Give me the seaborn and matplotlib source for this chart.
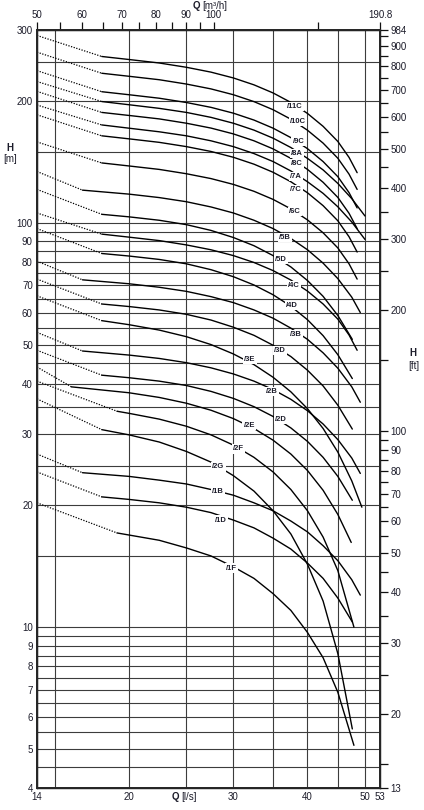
'''
Pump performance chart: head H versus flow Q, log-log, one curve per model
'''
import matplotlib
matplotlib.use('Agg')
import matplotlib.pyplot as plt
import seaborn           as sns
import pandas            as pnd
from matplotlib.ticker import NullFormatter

# ----------------------
# Curve points: Q [l/s], H [m]
# first segment (Q=14 -> second point) is the dotted part
# ----------------------
Q_C   = [14, 18, 20, 22.5, 25, 27.5, 30, 32.5, 35, 37.5, 40, 42.5, 45, 47, 48.5]
H_11C = [290.8, 258.0, 253.6, 248.6, 242.6, 236.0, 228.3, 219.5, 209.6, 198.6, 186.5, 173.3, 159.0, 145.2, 133.1]
H_10C = [264.4, 234.5, 230.5, 226.0, 220.5, 214.5, 207.5, 199.5, 190.5, 180.5, 169.5, 157.5, 144.5, 132.0, 121.0]
H_9C  = [238.0, 211.1, 207.5, 203.4, 198.5, 193.1, 186.8, 179.6, 171.5, 162.5, 152.6, 141.8, 130.1, 118.8, 108.9]
H_8C  = [211.5, 187.6, 184.4, 180.8, 176.4, 171.6, 166.0, 159.6, 152.4, 144.4, 135.6, 126.0, 115.6, 105.6,  96.8]
H_7C  = [185.1, 164.2, 161.4, 158.2, 154.4, 150.2, 145.3, 139.7, 133.4, 126.4, 118.7, 110.3, 101.2,  92.4,  84.7]
H_6C  = [158.6, 140.7, 138.3, 135.6, 132.3, 128.7, 124.5, 119.7, 114.3, 108.3, 101.7,  94.5,  86.7,  79.2,  72.6]
H_4C  = [105.8,  93.8,  92.2,  90.4,  88.2,  85.8,  83.0,  79.8,  76.2,  72.2,  67.8,  63.0,  57.8,  52.8,  48.4]

Q_A   = [14, 18, 20, 22.5, 25, 27.5, 30, 32.5, 35, 37.5, 40, 42.5, 45, 47.5, 50]
H_8A  = [223.7, 199.6, 196.0, 192.0, 187.6, 182.4, 176.4, 169.6, 162.0, 153.6, 144.4, 135.2, 125.2, 114.8, 104.0]
H_7A  = [195.7, 174.7, 171.5, 168.0, 164.2, 159.6, 154.4, 148.4, 141.8, 134.4, 126.4, 118.3, 109.6, 100.5,  91.0]

Q_B   = [14, 16.7, 20, 22.5, 25, 27.5, 30, 32.5, 35, 37.5, 40, 42.5, 45, 47.5, 49.1]
H_5B  = [134.0, 120.5, 117.8, 115.5, 112.8, 109.5, 105.8, 101.5, 96.8, 91.5, 85.8, 79.5, 72.8, 65.5, 60.0]
H_3B  = [ 80.4,  72.3,  70.7,  69.3,  67.7,  65.7,  63.5,  60.9, 58.1, 54.9, 51.5, 47.7, 43.7, 39.3, 36.0]
H_2B  = [ 53.6,  48.2,  47.1,  46.2,  45.1,  43.8,  42.3,  40.6, 38.7, 36.6, 34.3, 31.8, 29.1, 26.2, 24.0]
H_1B  = [ 26.8,  24.1,  23.6,  23.1,  22.6,  21.9,  21.2,  20.3, 19.4, 18.3, 17.2, 15.9, 14.6, 13.1, 12.0]

Q_D   = [14, 18, 20, 22.5, 25, 27.5, 30, 32.5, 35, 37.5, 40, 42.5, 45, 47.6]
H_5D  = [121.0, 105.0, 103.5, 101.5, 99.0, 95.8, 92.0, 87.8, 83.0, 77.8, 72.0, 65.8, 59.0, 51.5]
H_4D  = [ 96.8,  84.0,  82.8,  81.2, 79.2, 76.6, 73.6, 70.2, 66.4, 62.2, 57.6, 52.6, 47.2, 41.2]
H_3D  = [ 72.6,  63.0,  62.1,  60.9, 59.4, 57.5, 55.2, 52.7, 49.8, 46.7, 43.2, 39.5, 35.4, 30.9]
H_2D  = [ 48.4,  42.0,  41.4,  40.6, 39.6, 38.3, 36.8, 35.1, 33.2, 31.1, 28.8, 26.3, 23.6, 20.6]
H_1D  = [ 24.2,  21.0,  20.7,  20.3, 19.8, 19.2, 18.4, 17.6, 16.6, 15.6, 14.4, 13.2, 11.8, 10.3]

Q_3E  = [14, 18, 20, 22.5, 25, 27.5, 30, 32.5, 35, 37.5, 40, 42.5, 45, 47.5, 49.4]
H_3E  = [66.0, 57.3, 56.0, 54.3, 52.3, 50.0, 47.4, 44.6, 41.5, 38.2, 34.7, 31.0, 27.1, 23.0, 19.8]
Q_2E  = [14, 16, 20, 22.5, 25, 27.5, 30, 32.5, 35, 37.5, 40, 42.5, 45, 47.4]
H_2E  = [44.0, 39.3, 38.0, 37.0, 35.8, 34.4, 32.8, 31.0, 29.0, 26.8, 24.4, 21.8, 19.0, 16.2]

Q_F   = [14, 19.1, 20, 22.5, 25, 27.5, 30, 32.5, 35, 37.5, 40, 42.5, 45, 47.9]
H_2F  = [40.6, 34.2, 33.8, 32.7, 31.4, 29.9, 28.2, 26.3, 24.2, 21.9, 19.4, 16.7, 13.8, 10.0]
H_1F  = [20.3, 17.1, 16.9, 16.4, 15.7, 15.0, 14.1, 13.2, 12.1, 11.0,  9.7,  8.4,  6.9,  5.1]

Q_G   = [14, 18, 20, 22.5, 25, 27.5, 30, 32.5, 35, 37.5, 40, 42.5, 45, 47.6]
H_2G  = [36.7, 30.8, 29.9, 28.7, 27.2, 25.6, 23.7, 21.7, 19.4, 17.0, 14.3, 11.6, 8.6, 5.6]

# Label names and where they sit on the curves
l_name  = ['/11C', '/10C', '/9C', '/8A', '/8C', '/7A', '/7C', '/6C', '/5B', '/5D', '/4C', '/4D',
           '/3B', '/3D', '/3E', '/2B', '/2D', '/2E', '/2F', '/2G', '/1B', '/1D', '/1F']
l_lab_q = [38.1, 38.6, 38.6, 38.4, 38.4, 38.2, 38.2, 38.1, 36.7, 36.1, 38.0, 37.7,
           38.2, 36.0, 32.0, 34.9, 36.1, 31.9, 30.6, 28.3, 28.3, 28.6, 29.8]
l_lab_h = [194.0, 178.0, 158.8, 148.4, 140.0, 130.0, 120.8, 106.6, 91.9, 81.1, 69.9, 62.4,
           52.9, 48.3, 45.9, 38.2, 32.6, 31.5, 27.6, 24.9, 21.6, 18.4, 14.0]

# Axis ticks
h_major = [4, 5, 6, 7, 8, 9, 10, 20, 30, 40, 50, 60, 70, 80, 90, 100, 200, 300]
h_minor = [4.5, 5.5, 6.5, 7.5, 8.5, 9.5, 15, 25, 35, 45, 55, 65, 75, 85, 95, 150, 250]
q_major = [14, 20, 30, 40, 50, 53]
q_minor = [15, 25, 35, 45]
m3h_major = [50.4, 60, 70, 80, 90, 100, 190.8]
m3h_label = ['50', '60', '70', '80', '90', '100', '190.8']
m3h_minor = [55, 65, 75, 85, 95, 150]
ft_major  = [13.12, 20, 30, 40, 50, 60, 70, 80, 90, 100, 200, 300, 400, 500, 600, 700, 800, 900, 984.25]
ft_label  = ['13', '20', '30', '40', '50', '60', '70', '80', '90', '100', '200', '300',
             '400', '500', '600', '700', '800', '900', '984']
ft_minor  = [15, 25, 35, 45, 55, 65, 75, 85, 95, 150, 250, 350, 450, 550, 650, 750, 850, 950]

TXT = '#1c1c2a'
GRD = '#3c3c3c'
# ----------------------
def _curves() -> dict:
    return {
        '/11C' : (Q_C , H_11C), '/10C' : (Q_C , H_10C), '/9C' : (Q_C , H_9C ),
        '/8A'  : (Q_A , H_8A ), '/8C'  : (Q_C , H_8C ), '/7A' : (Q_A , H_7A ),
        '/7C'  : (Q_C , H_7C ), '/6C'  : (Q_C , H_6C ), '/5B' : (Q_B , H_5B ),
        '/5D'  : (Q_D , H_5D ), '/4C'  : (Q_C , H_4C ), '/4D' : (Q_D , H_4D ),
        '/3B'  : (Q_B , H_3B ), '/3D'  : (Q_D , H_3D ), '/3E' : (Q_3E, H_3E ),
        '/2B'  : (Q_B , H_2B ), '/2D'  : (Q_D , H_2D ), '/2E' : (Q_2E, H_2E ),
        '/2F'  : (Q_F , H_2F ), '/2G'  : (Q_G , H_2G ), '/1B' : (Q_B , H_1B ),
        '/1D'  : (Q_D , H_1D ), '/1F'  : (Q_F , H_1F )}
# ----------------------
def _tables() -> tuple[pnd.DataFrame, pnd.DataFrame]:
    l_dot = []
    l_sol = []
    for name, (l_q, l_h) in _curves().items():
        for i, (q, h) in enumerate(zip(l_q, l_h)):
            if i <= 1:
                l_dot.append({'curve' : name, 'Q' : q, 'H' : h})
            if i >= 1:
                l_sol.append({'curve' : name, 'Q' : q, 'H' : h})

    return pnd.DataFrame(l_dot), pnd.DataFrame(l_sol)
# ----------------------
def _style_axes(ax) -> None:
    ax.set_xscale('log')
    ax.set_yscale('log')
    ax.set_xlim(14, 53)
    ax.set_ylim(4, 300)

    ax.set_xticks(q_major, labels=[str(v) for v in q_major])
    ax.set_xticks(q_minor, minor=True)
    ax.set_yticks(h_major, labels=[str(v) for v in h_major])
    ax.set_yticks(h_minor, minor=True)
    ax.xaxis.set_minor_formatter(NullFormatter())
    ax.yaxis.set_minor_formatter(NullFormatter())
    ax.tick_params(which='both', length=0, labelsize=7, colors=TXT, pad=3)
    ax.grid(which='both', color=GRD, lw=0.8)
    ax.set_axisbelow(True)
    ax.set_xlabel('')
    ax.set_ylabel('')
    for spine in ax.spines.values():
        spine.set_color('#111111')
        spine.set_linewidth(1.0)

    axt = ax.twiny()
    axt.set_xscale('log')
    axt.set_xlim(50.4, 190.8)
    axt.set_xticks(m3h_major, labels=m3h_label)
    axt.set_xticks(m3h_minor, minor=True)
    axt.xaxis.set_minor_formatter(NullFormatter())
    axt.tick_params(which='both', direction='out', length=6, width=0.9, labelsize=7,
                    colors='#111111', labelcolor=TXT, pad=1)

    axr = ax.twinx()
    axr.set_yscale('log')
    axr.set_ylim(4 * 3.28084, 300 * 3.28084)
    axr.set_yticks(ft_major, labels=ft_label)
    axr.set_yticks(ft_minor, minor=True)
    axr.yaxis.set_minor_formatter(NullFormatter())
    axr.tick_params(which='both', direction='out', length=6, width=0.9, labelsize=7,
                    colors='#111111', labelcolor=TXT, pad=1.5)
# ----------------------
def main():
    '''
    Entry point
    '''
    sns.set_theme(style='white')
    plt.rcParams['font.family'] = ['Liberation Sans', 'DejaVu Sans']

    fig = plt.figure(figsize=(4.24, 8.10), dpi=100)
    ax  = fig.add_axes([37 / 424, 22 / 810, 343 / 424, 758 / 810])

    df_dot, df_sol = _tables()
    sns.lineplot(data=df_dot, x='Q', y='H', units='curve', estimator=None, sort=False,
                 color='black', lw=0.9, linestyle=(0, (1, 1.2)), legend=False, ax=ax)
    sns.lineplot(data=df_sol, x='Q', y='H', units='curve', estimator=None, sort=False,
                 color='black', lw=1.0, legend=False, ax=ax)

    for name, q, h in zip(l_name, l_lab_q, l_lab_h):
        ax.text(q, h, name, fontsize=5.5, fontweight='bold', color=TXT, ha='center', va='center',
                zorder=5, bbox={'boxstyle' : 'square,pad=0.15', 'fc' : 'white', 'ec' : 'none'})

    _style_axes(ax)

    fig.text(10 / 424, 1 - 148 / 810, 'H', fontsize=7, fontweight='bold', color=TXT, ha='center', va='center')
    fig.text(10 / 424, 1 - 159 / 810, '[m]', fontsize=7, color=TXT, ha='center', va='center')
    fig.text(413 / 424, 1 - 353 / 810, 'H', fontsize=7, fontweight='bold', color=TXT, ha='center', va='center')
    fig.text(414 / 424, 1 - 366 / 810, '[ft]', fontsize=7, color=TXT, ha='center', va='center')
    fig.text(179 / 424, 1 - 797 / 810, 'Q', fontsize=7, fontweight='bold', color=TXT, ha='right', va='center')
    fig.text(181 / 424, 1 - 797 / 810, '[l/s]', fontsize=7, color=TXT, ha='left', va='center')
    fig.text(200 / 424, 1 - 6 / 810, 'Q', fontsize=7, fontweight='bold', color=TXT, ha='right', va='center')
    fig.text(202 / 424, 1 - 6 / 810, '[m³/h]', fontsize=7, color=TXT, ha='left', va='center')

    fig.savefig('out.png', dpi=100)
    plt.close(fig)
# ----------------------
if __name__ == '__main__':
    main()
